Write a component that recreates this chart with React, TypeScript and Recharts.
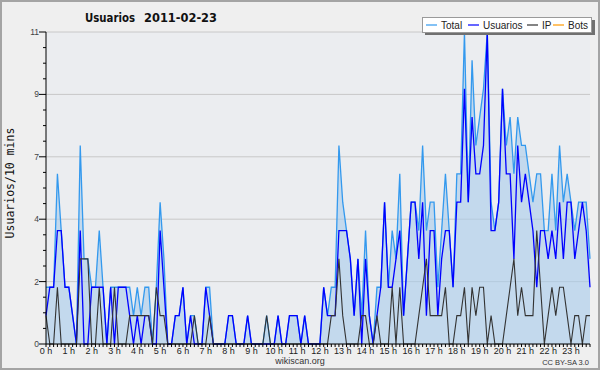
import { Area, CartesianGrid, ComposedChart, Line, XAxis, YAxis } from "recharts";

// wikiscan: users per 10-minute slot, 2011-02-23 (144 slots)
const USUARIOS = [
  1, 2, 2, 4, 4, 2, 2, 1, 0, 4, 0, 0, 2, 2, 2, 2, 0, 2, 0, 2, 2, 2, 1, 0,
  1, 0, 1, 1, 0, 0, 4, 2, 0, 0, 1, 1, 2, 0, 1, 0, 0, 0, 2, 1, 0, 0, 0, 0,
  1, 1, 0, 0, 0, 1, 0, 0, 0, 0, 0, 0, 0, 1, 0, 0, 1, 1, 1, 0, 1, 0, 0, 0,
  0, 2, 1, 1, 1, 4, 4, 4, 3, 1, 3, 0, 3, 1, 0, 1, 2, 5, 2, 2, 3, 4, 1, 3,
  5, 5, 3, 5, 1, 4, 4, 1, 3, 4, 4, 2, 5, 5, 9, 5, 8, 6, 6, 7, 11, 4, 4, 5,
  9, 6, 6, 3, 7, 5, 6, 5, 4, 2, 4, 4, 3, 4, 3, 5, 3, 5, 5, 3, 4, 5, 4, 2,
];
const IP = [
  1, 0, 0, 2, 0, 0, 0, 0, 0, 3, 3, 3, 0, 0, 2, 0, 0, 0, 2, 0, 0, 0, 1, 1,
  1, 1, 1, 1, 0, 2, 1, 1, 0, 0, 0, 0, 0, 0, 0, 1, 0, 0, 0, 1, 0, 0, 0, 0,
  0, 0, 0, 0, 0, 0, 0, 0, 0, 0, 1, 0, 0, 0, 0, 0, 0, 0, 0, 0, 0, 0, 0, 0,
  0, 0, 0, 1, 1, 3, 1, 0, 0, 0, 0, 1, 1, 0, 0, 1, 0, 0, 0, 2, 0, 2, 0, 0,
  0, 0, 1, 2, 3, 1, 1, 1, 1, 2, 0, 0, 1, 1, 2, 0, 2, 1, 2, 2, 0, 1, 0, 0,
  0, 1, 2, 3, 1, 2, 1, 1, 1, 4, 2, 0, 1, 2, 1, 2, 2, 1, 0, 1, 1, 0, 1, 1,
];
const TOTAL = [
  2, 2, 2, 6, 4, 2, 2, 1, 0, 7, 3, 3, 2, 2, 4, 2, 0, 2, 2, 2, 2, 2, 2, 1,
  2, 1, 2, 2, 0, 2, 5, 3, 0, 0, 1, 1, 2, 0, 1, 1, 0, 0, 2, 2, 0, 0, 0, 0,
  1, 1, 0, 0, 0, 1, 0, 0, 0, 0, 1, 0, 0, 1, 0, 0, 1, 1, 1, 0, 1, 0, 0, 0,
  0, 2, 1, 2, 2, 7, 5, 4, 3, 1, 3, 1, 4, 1, 0, 2, 2, 5, 2, 4, 3, 6, 1, 3,
  5, 5, 4, 7, 4, 5, 5, 2, 4, 6, 4, 2, 6, 6, 11, 5, 10, 7, 8, 9, 11, 5, 4, 5,
  9, 7, 8, 6, 8, 7, 7, 6, 5, 6, 6, 4, 4, 6, 4, 7, 5, 6, 5, 4, 5, 5, 5, 3,
];
const BOTS = [
  0, 0, 0, 0, 0, 0, 0, 0, 0, 0, 0, 0, 0, 0, 0, 0, 0, 0, 0, 0, 0, 0, 0, 0,
  0, 0, 0, 0, 0, 0, 0, 0, 0, 0, 0, 0, 0, 0, 0, 0, 0, 0, 0, 0, 0, 0, 0, 0,
  0, 0, 0, 0, 0, 0, 0, 0, 0, 0, 0, 0, 0, 0, 0, 0, 0, 0, 0, 0, 0, 0, 0, 0,
  0, 0, 0, 0, 0, 0, 0, 0, 0, 0, 0, 0, 0, 0, 0, 0, 0, 0, 0, 0, 0, 0, 0, 0,
  0, 0, 0, 0, 0, 0, 0, 0, 0, 0, 0, 0, 0, 0, 0, 0, 0, 0, 0, 0, 0, 0, 0, 0,
  0, 0, 0, 0, 0, 0, 0, 0, 0, 0, 0, 0, 0, 0, 0, 0, 0, 0, 0, 0, 0, 0, 0, 0,
];

const HOUR_LABELS = [
  "0 h", "1 h", "2 h", "3 h", "4 h", "5 h", "6 h", "7 h", "8 h", "9 h", "10 h", "11 h",
  "12 h", "13 h", "14 h", "15 h", "16 h", "17 h", "18 h", "19 h", "20 h", "21 h", "22 h", "23 h",
];
const Y_TICKS = [
  0, 0.55, 1.1, 1.65, 2.2, 2.75, 3.3, 3.85, 4.4, 4.95, 5.5, 6.05, 6.6, 7.15, 7.7,
  8.25, 8.8, 9.35, 9.9, 10.45, 11,
];
const Y_MAJOR = [0, 2.2, 4.4, 6.6, 8.8, 11];
const Y_LABELS = ["0", "2", "4", "7", "9", "11"];

const LEGEND = [
  { key: "Total", color: "#3399ee", x: 426 },
  { key: "Usuarios", color: "#0000ff", x: 468 },
  { key: "IP", color: "#333333", x: 527 },
  { key: "Bots", color: "#ff9900", x: 553 },
];

const data = TOTAL.map((t, i) => ({
  i,
  total: t,
  usuarios: USUARIOS[i],
  ip: IP[i],
  bots: BOTS[i],
}));
const X_TICKS = data.map((d) => d.i);

const SANS = "Liberation Sans, Arial, sans-serif";

function XTick(props: any) {
  const { x, y, payload } = props;
  const i = payload.value;
  return (
    <g>
      <line x1={x} x2={x} y1={y} y2={y + 3} stroke="#000" />
      {i % 6 === 0 && (
        <text x={x} y={y + 10} textAnchor="middle" fontSize={9} fontFamily={SANS} fill="#222">
          {HOUR_LABELS[i / 6]}
        </text>
      )}
    </g>
  );
}

function YTick(props: any) {
  const { x, y, payload } = props;
  const k = Y_MAJOR.indexOf(payload.value);
  return (
    <g>
      <line x1={x - (k >= 0 ? 7 : 3)} x2={x} y1={y} y2={y} stroke="#000" />
      {k >= 0 && (
        <text x={x - 7} y={y + 3} textAnchor="end" fontSize={8.5} fontFamily={SANS} fill="#444">
          {Y_LABELS[k]}
        </text>
      )}
    </g>
  );
}

export default function App() {
  return (
    <div style={{ position: "relative", width: 600, height: 370, background: "#efefef" }}>
      <style>{"body{margin:0}"}</style>
      <div style={{ position: "absolute", left: 0, top: 0 }}>
        <ComposedChart
          width={600}
          height={370}
          data={data}
          margin={{ top: 32, right: 10, bottom: 0, left: 0 }}
        >
          <CartesianGrid
            vertical={false}
            horizontalValues={Y_MAJOR}
            stroke="#c8c8c8"
            fill="#ebedf0"
          />
          <XAxis
            type="number"
            dataKey="i"
            domain={[0, 143]}
            ticks={X_TICKS}
            interval={0}
            height={26}
            tickSize={0}
            tickMargin={0}
            tickLine={false}
            axisLine={{ stroke: "#000" }}
            tick={<XTick />}
          />
          <YAxis
            type="number"
            domain={[0, 11]}
            ticks={Y_TICKS}
            interval={0}
            width={46}
            tickSize={0}
            tickMargin={0}
            tickLine={false}
            axisLine={{ stroke: "#000" }}
            tick={<YTick />}
          />
          <Area
            type="linear"
            dataKey="total"
            stroke="#3399ee"
            strokeWidth={1.3}
            fill="#a9cbeb"
            fillOpacity={0.6}
            dot={false}
            activeDot={false}
            isAnimationActive={false}
          />
          <Line type="linear" dataKey="usuarios" stroke="#0000ff" strokeWidth={1.3} dot={false} isAnimationActive={false} />
          <Line type="linear" dataKey="ip" stroke="#333333" strokeWidth={1.1} dot={false} isAnimationActive={false} />
          {/* bots stay at zero, hidden under the x axis as in the original */}
          <Line type="linear" dataKey="bots" stroke="#ff9900" strokeWidth={1.1} strokeOpacity={0} dot={false} isAnimationActive={false} />
        </ComposedChart>
      </div>
      <svg width={600} height={370} style={{ position: "absolute", left: 0, top: 0, pointerEvents: "none" }}>
        <rect x={1} y={1} width={598} height={368} fill="none" stroke="#a4a4a4" strokeWidth={2} />
        <text x={85} y={21.5} fontFamily="DejaVu Sans, sans-serif" fontWeight="bold" fontSize={12} textLength={50} lengthAdjust="spacingAndGlyphs" fill="#111">
          Usuarios
        </text>
        <text x={144} y={21.5} fontFamily="DejaVu Sans, sans-serif" fontWeight="bold" fontSize={12} textLength={73} lengthAdjust="spacingAndGlyphs" fill="#111">
          2011-02-23
        </text>
        <text
          transform="rotate(-90)"
          x={-183}
          y={14}
          textAnchor="middle"
          fontFamily="DejaVu Sans Mono, monospace"
          fontSize={11.5}
          fill="#111"
        >
          Usuarios/10 mins
        </text>
        <text x={300} y={364} textAnchor="middle" fontFamily={SANS} fontSize={9} fill="#333">
          wikiscan.org
        </text>
        <text x={589} y={365} textAnchor="end" fontFamily={SANS} fontSize={7.5} fill="#333">
          CC BY-SA 3.0
        </text>
        <rect x={425} y={20} width={170} height={15} fill="#707070" />
        <rect x={422.5} y={17.5} width={169} height={15} fill="#fff" stroke="#9a9a9a" />
        {LEGEND.map((l) => (
          <g key={l.key}>
            <line x1={l.x} x2={l.x + 11} y1={25} y2={25} stroke={l.color} strokeWidth={1.2} />
            <text x={l.x + 15} y={28.5} fontFamily={SANS} fontSize={10} fill="#222">
              {l.key}
            </text>
          </g>
        ))}
      </svg>
    </div>
  );
}
